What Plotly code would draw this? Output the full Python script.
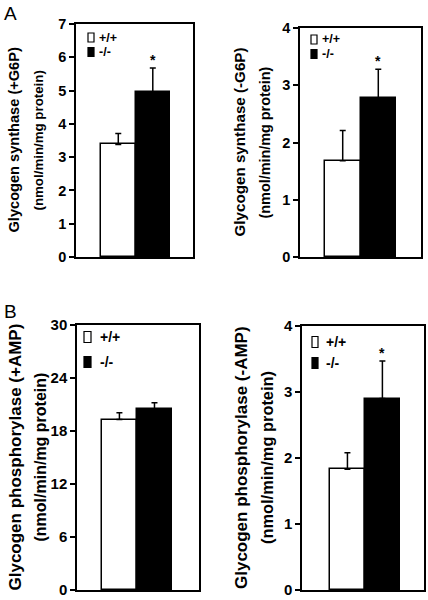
import plotly.graph_objects as go

W, H = 428, 600

genotypes = ["+/+", "-/-"]
bar_colors = ["white", "black"]

# values
gs_g6p = [3.38, 4.95]
gs_g6p_err = [0.33, 0.73]
gs_nog6p = [1.68, 2.77]
gs_nog6p_err = [0.53, 0.51]
gp_amp = [19.3, 20.5]
gp_amp_err = [0.77, 0.70]
gp_noamp = [1.83, 2.90]
gp_noamp_err = [0.25, 0.57]

y_ticks = [
    [0, 1, 2, 3, 4, 5, 6, 7],
    [0, 1, 2, 3, 4],
    [0, 6, 12, 18, 24, 30],
    [0, 1, 2, 3, 4],
]
signif = [True, True, False, True]

titles1 = ["Glycogen synthase (+G6P)", "Glycogen synthase (-G6P)",
           "Glycogen phosphorylase (+AMP)", "Glycogen phosphorylase (-AMP)"]
title2 = "(nmol/min/mg protein)"

values = [gs_g6p, gs_nog6p, gp_amp, gp_noamp]
errors = [gs_g6p_err, gs_nog6p_err, gp_amp_err, gp_noamp_err]

# layout geometry (pixels)
boxes = [(76, 193, 24, 257), (300, 421, 28, 257), (77, 199, 325, 590), (302, 424, 326, 590)]
xranges = [(-1.225, 2.165), (-1.2, 2.2), (-1.21, 2.27), (-1.3, 2.19)]
title_x = [(14, 38), (239, 264), (15, 40), (241, 267)]
title_sizes = [(14.6, 13.3), (15.2, 14.4), (17.0, 16.0), (17.0, 16.4)]
tick_sizes = [14.5, 14.5, 15, 15]
legend_geo = [  # square x0,x1, row1 y, row2 y, text x, sq h, font
    (88, 94, 37.5, 52, 97, 9, 12.5),
    (311, 317, 39.5, 54, 320, 9, 12.5),
    (84, 91, 337, 362, 98, 11, 14),
    (312, 318, 342, 363, 324, 11, 14),
]

FONT = "Arial, 'Liberation Sans', sans-serif"

fig = go.Figure()
annotations = []
shapes = []

for i in range(4):
    n = "" if i == 0 else str(i + 1)
    xa, ya = "x" + n, "y" + n
    x0, x1, y0, y1 = boxes[i]
    fig.add_trace(go.Bar(
        x=[0, 1], y=values[i], width=1,
        marker=dict(color=bar_colors, line=dict(color="black", width=1.5)),
        error_y=dict(type="data", symmetric=False, array=errors[i], arrayminus=[0, 0],
                     color="black", thickness=1.5, width=3),
        xaxis=xa, yaxis=ya, showlegend=False, name=titles1[i],
        customdata=genotypes, hoverinfo="y",
    ))
    fig.layout["xaxis" + n] = dict(
        domain=[x0 / W, x1 / W], range=list(xranges[i]), anchor=ya,
        showticklabels=False, ticks="", showgrid=False, zeroline=False, automargin=False,
        showline=True, linecolor="black", linewidth=1.5, mirror=True, fixedrange=True,
    )
    fig.layout["yaxis" + n] = dict(
        domain=[1 - y1 / H, 1 - y0 / H], range=[0, y_ticks[i][-1]], anchor=xa,
        tickmode="array", tickvals=y_ticks[i],
        ticktext=["<b>%d</b>" % v for v in y_ticks[i]],
        ticks="outside", ticklen=5, tickwidth=1.5, tickcolor="black",
        tickfont=dict(family=FONT, size=tick_sizes[i], color="black"),
        ticklabeloverflow="allow",
        showgrid=False, zeroline=False, automargin=False,
        showline=True, linecolor="black", linewidth=1.5, mirror=True, fixedrange=True,
    )
    # axis titles
    ymid = 1 - ((y0 + y1) / 2) / H
    for j, txt in enumerate([titles1[i], title2]):
        annotations.append(dict(
            text="<b>" + txt + "</b>", xref="paper", yref="paper",
            x=title_x[i][j] / W, y=ymid, xanchor="center", yanchor="middle",
            textangle=-90, showarrow=False,
            font=dict(family=FONT, size=title_sizes[i][j], color="black"),
        ))
    # significance star
    if signif[i]:
        annotations.append(dict(
            text="<b>*</b>", x=1, y=values[i][1] + errors[i][1], xref=xa, yref=ya,
            xanchor="center", yanchor="bottom", yshift=-2, showarrow=False,
            font=dict(family=FONT, size=14, color="black"),
        ))
    # legend
    sx0, sx1, r1, r2, tx, sh, fs = legend_geo[i]
    for k, ry in enumerate([r1, r2]):
        shapes.append(dict(
            type="rect", xref="paper", yref="paper",
            x0=sx0 / W, x1=sx1 / W, y0=1 - (ry + sh / 2) / H, y1=1 - (ry - sh / 2) / H,
            fillcolor=bar_colors[k], line=dict(color="black", width=1.2),
        ))
        annotations.append(dict(
            text="<b>" + genotypes[k] + "</b>", xref="paper", yref="paper",
            x=tx / W, y=1 - ry / H, xanchor="left", yanchor="middle", showarrow=False,
            font=dict(family=FONT, size=fs, color="black"),
        ))

# panel letters
for letter, py in [("A", 14), ("B", 311)]:
    annotations.append(dict(
        text=letter, xref="paper", yref="paper", x=2 / W, y=1 - py / H,
        xanchor="left", yanchor="middle", showarrow=False,
        font=dict(family=FONT, size=19, color="black"),
    ))

fig.update_layout(
    template="none",
    width=W, height=H, margin=dict(l=0, r=0, t=0, b=0, pad=0, autoexpand=False),
    paper_bgcolor="white", plot_bgcolor="white",
    font=dict(family=FONT, color="black"),
    annotations=annotations, shapes=shapes, bargap=0, showlegend=False,
)

fig.write_html(
    "out.html",
    config={"displayModeBar": False},
    post_script="document.body.style.margin='0';document.body.style.overflow='hidden';",
)
